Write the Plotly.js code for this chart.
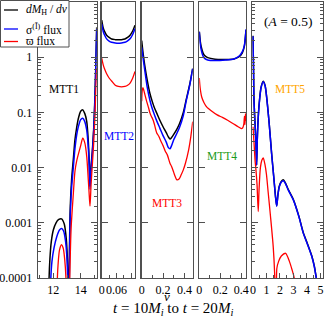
<!DOCTYPE html>
<html>
<head>
<meta charset="utf-8">
<script src="https://cdn.plot.ly/plotly-3.0.1.min.js"></script>
<style>html,body{margin:0;padding:0;background:#fff;}#chart{width:327px;height:320px;}</style>
</head>
<body>
<div id="chart"></div>
<script>
// ---------- DATA ----------
// Panel 1 (MTT1)
const mtt1V_black = [11.62, 11.69, 11.75, 11.85, 12.0, 12.2, 12.4, 12.6, 12.8, 12.95, 13.03, 13.09, 13.12, 13.18, 13.24, 13.34, 13.46, 13.58, 13.7, 13.82, 14.0, 14.15, 14.3, 14.44, 14.55, 14.62, 14.68, 14.75, 14.85, 14.95, 15.03, 15.1, 15.17];
const mtt1_black = [1e-5, 1.0e-4, 2.2e-4, 4.5e-4, 7.4e-4, 1.0e-3, 1.15e-3, 1.18e-3, 9.5e-4, 5.0e-4, 2.2e-4, 8e-5, 1e-6, 3.2e-4, 2.0e-3, 6.3e-3, 0.014, 0.032, 0.052, 0.076, 0.105, 0.111, 0.095, 0.069, 0.032, 0.014, 0.0046, 0.01, 0.02, 0.05, 0.16, 0.63, 3.5];
const mtt1V_blue = [11.75, 11.81, 11.9, 12.05, 12.25, 12.45, 12.6, 12.75, 12.9, 13.0, 13.05, 13.12, 13.18, 13.24, 13.34, 13.46, 13.58, 13.7, 13.82, 14.0, 14.15, 14.3, 14.44, 14.55, 14.62, 14.68, 14.75, 14.85, 14.95, 15.03, 15.1, 15.17];
const mtt1_blue = [1e-5, 9e-5, 2.0e-4, 3.5e-4, 5.6e-4, 7.4e-4, 7.9e-4, 7.1e-4, 4.5e-4, 2.2e-4, 9e-5, 1e-6, 2.0e-4, 1.4e-3, 4.5e-3, 0.01, 0.022, 0.038, 0.054, 0.074, 0.0785, 0.068, 0.048, 0.024, 0.011, 0.004, 0.0089, 0.018, 0.045, 0.14, 0.56, 3.2];
const mtt1V_red = [12.24, 12.29, 12.35, 12.45, 12.6, 12.72, 12.83, 12.93, 13.05, 13.2, 13.3, 13.46, 13.58, 13.7, 14.0, 14.15, 14.3, 14.44, 14.6, 14.68, 14.76, 14.85, 14.95, 15.05, 15.12, 15.17];
const mtt1_red = [1e-5, 9e-5, 1.8e-4, 3.2e-4, 4.0e-4, 3.5e-4, 2.2e-4, 9e-5, 1e-6, 1.0e-4, 7.9e-4, 3.3e-3, 8.5e-3, 0.013, 0.025, 0.034, 0.028, 0.016, 0.004, 0.002, 0.005, 0.011, 0.028, 0.1, 0.32, 0.63];

// Panel 2 (MTT2)
const mtt2V = [0, 0.0065, 0.013, 0.02, 0.03, 0.04, 0.055, 0.067, 0.08, 0.094, 0.105, 0.115, 0.125, 0.135];
const mtt2_black = [4.7, 3.35, 2.85, 2.5, 2.28, 2.14, 2.08, 2.06, 2.08, 2.14, 2.28, 2.5, 2.95, 3.8];
const mtt2_blue = [4.0, 2.9, 2.45, 2.15, 1.96, 1.86, 1.81, 1.79, 1.81, 1.86, 1.98, 2.15, 2.55, 3.3];
const mtt2_red = [0.96, 0.72, 0.59, 0.5, 0.42, 0.37, 0.31, 0.295, 0.29, 0.295, 0.31, 0.34, 0.41, 0.55];

// Panel 3 (MTT3)
const mtt3V = [0, 0.006, 0.015, 0.03, 0.05, 0.077, 0.1, 0.12, 0.14, 0.17, 0.2, 0.23, 0.25, 0.266, 0.28, 0.3, 0.33, 0.355, 0.39, 0.417, 0.45, 0.478];
const mtt3_black = [2.0, 1.55, 1.1, 0.68, 0.4, 0.22, 0.155, 0.12, 0.098, 0.072, 0.055, 0.043, 0.036, 0.033, 0.035, 0.04, 0.05, 0.063, 0.1, 0.17, 0.32, 0.62];
const mtt3_blue = [1.5, 1.25, 0.9, 0.56, 0.3, 0.166, 0.115, 0.09, 0.071, 0.052, 0.038, 0.029, 0.023, 0.022, 0.025, 0.032, 0.042, 0.054, 0.088, 0.16, 0.31, 0.62];
const mtt3V_red = [0, 0.005, 0.012, 0.02, 0.03, 0.05, 0.065, 0.077, 0.09, 0.1, 0.11, 0.12, 0.14, 0.16, 0.18, 0.2, 0.22, 0.24, 0.265, 0.28, 0.3, 0.315, 0.33, 0.35, 0.37, 0.39, 0.41, 0.44, 0.46, 0.478];
const mtt3_red = [0.16, 0.25, 0.28, 0.25, 0.21, 0.15, 0.12, 0.098, 0.085, 0.078, 0.07, 0.06, 0.043, 0.037, 0.03, 0.025, 0.02, 0.017, 0.012, 0.0105, 0.0082, 0.0068, 0.006, 0.0062, 0.0074, 0.0091, 0.012, 0.021, 0.036, 0.068];

// Panel 4 (MTT4)
const mtt4V = [0, 0.01, 0.02, 0.035, 0.05, 0.08, 0.15, 0.25, 0.33, 0.38, 0.41, 0.43, 0.445];
const mtt4_black = [2.9, 1.9, 1.5, 1.2, 1.07, 0.98, 0.92, 0.91, 0.93, 1.02, 1.2, 1.6, 3.1];
const mtt4_blue = [2.9, 1.7, 1.32, 1.05, 0.95, 0.89, 0.87, 0.89, 0.93, 1.05, 1.26, 1.66, 3.2];
const mtt4V_red = [0, 0.008, 0.023, 0.045, 0.07, 0.12, 0.17, 0.22, 0.27, 0.32, 0.37, 0.4, 0.415, 0.425, 0.43, 0.435, 0.44, 0.445];
const mtt4_red = [0.42, 0.28, 0.19, 0.15, 0.126, 0.105, 0.09, 0.081, 0.072, 0.063, 0.055, 0.051, 0.053, 0.063, 0.085, 0.06, 0.095, 0.07];

// Panel 5 (MTT5)
const mtt5V = [0, 0.04, 0.074, 0.15, 0.22, 0.27, 0.32, 0.4, 0.5, 0.6, 0.76, 0.9, 1.0, 1.2, 1.38, 1.55, 1.68, 1.76, 1.85, 1.95, 2.1, 2.24, 2.4, 2.6, 2.99, 3.4, 3.73, 4.05, 4.35, 4.55, 4.67, 4.8];
const mtt5_black = [2.45, 0.64, 0.173, 0.064, 0.0285, 0.0112, 0.0326, 0.091, 0.184, 0.286, 0.368, 0.306, 0.204, 0.064, 0.0184, 0.0064, 0.00285, 0.00204, 0.00326, 0.0046, 0.0056, 0.0060, 0.0053, 0.0041, 0.00265, 0.00132, 0.00066, 0.00041, 0.000255, 0.000163, 0.000109, 0.000071];
const mtt5_blue = [2.4, 0.63, 0.17, 0.063, 0.028, 0.011, 0.032, 0.089, 0.18, 0.28, 0.36, 0.30, 0.2, 0.063, 0.018, 0.0063, 0.0028, 0.002, 0.0032, 0.0045, 0.0055, 0.0058, 0.0052, 0.004, 0.0026, 0.0013, 0.00065, 0.0004, 0.00025, 0.00016, 0.000107, 0.00007];
const mtt5V_red = [0, 0.08, 0.15, 0.23, 0.3, 0.39, 0.45, 0.55, 0.65, 0.76, 0.9, 1.0, 1.13, 1.3, 1.5, 1.6, 1.66, 1.74, 1.77, 1.9, 2.1, 2.42, 2.7, 2.9, 3.06, 3.15];
const mtt5_red = [0.055, 0.028, 0.014, 0.0085, 0.005, 0.0016, 0.004, 0.01, 0.0135, 0.015, 0.011, 0.0075, 0.0035, 0.0013, 0.00037, 0.00013, 0.00003, 0.000005, 0.00015, 0.0002, 0.00025, 0.00028, 0.0002, 0.00014, 0.0001, 0.00004];

// Tick labels
const yTickVals = [1e-4, 1e-3, 1e-2, 1e-1, 1];
const yTickText = ['0.0001', '0.001', '0.01', '0.1', '1'];
const panelLabels = ['MTT1', 'MTT2', 'MTT3', 'MTT4', 'MTT5'];
const seriesNames = ['<i>dM</i><sub>H</sub> / <i>d\u03bd</i>', '\u03c3<sup>(\u012a)</sup> flux', '\u03d6 flux'];

// ---------- STYLE ----------
const FONT = 'Liberation Serif, Times New Roman, serif';
const C_BLACK = '#000000', C_BLUE = '#0000ff', C_RED = '#ff0000';
const FRAME = '#505050';
const L = 38, T = 2, PW = 285, PH = 276;
const px = x => (x - L) / PW;
const py = y => (T + PH - y) / PH;

const panels = [
  {vb: mtt1V_black, b: mtt1_black, vu: mtt1V_blue, u: mtt1_blue, vr: mtt1V_red, r: mtt1_red},
  {vb: mtt2V, b: mtt2_black, vu: mtt2V, u: mtt2_blue, vr: mtt2V, r: mtt2_red},
  {vb: mtt3V, b: mtt3_black, vu: mtt3V, u: mtt3_blue, vr: mtt3V_red, r: mtt3_red},
  {vb: mtt4V, b: mtt4_black, vu: mtt4V, u: mtt4_blue, vr: mtt4V_red, r: mtt4_red},
  {vb: mtt5V, b: mtt5_black, vu: mtt5V, u: mtt5_blue, vr: mtt5V_red, r: mtt5_red}
];

const traces = [];
panels.forEach((p, i) => {
  const xa = 'x' + (i ? i + 1 : '');
  const ya = 'y' + (i ? i + 1 : '');
  const base = {type: 'scatter', mode: 'lines', xaxis: xa, yaxis: ya, showlegend: false, hoverinfo: 'skip'};
  traces.push(Object.assign({}, base, {x: p.vb, y: p.b, line: {color: C_BLACK, width: 1.5, shape: 'spline', smoothing: 0.7}}));
  traces.push(Object.assign({}, base, {x: p.vu, y: p.u, line: {color: C_BLUE, width: 1.5, shape: 'spline', smoothing: 0.7}}));
  traces.push(Object.assign({}, base, {x: p.vr, y: p.r, line: {color: C_RED, width: 1.3, shape: 'spline', smoothing: 0.7}}));
});

// x-domains in pixels
const dom = [[38, 96.7], [101.7, 135], [141.7, 192.7], [199.3, 246], [252.3, 323]];
const xRanges = [[10.88, 15.17], [0, 0.135], [0, 0.478], [0, 0.445], [-0.05, 5.19]];
const xMajor = [
  {tickmode: 'linear', tick0: 0, dtick: 2},
  {tickmode: 'array', tickvals: [0, 0.06, 0.12], ticktext: ['0', '0.06', ' ']},
  {tickmode: 'linear', tick0: 0, dtick: 0.2},
  {tickmode: 'linear', tick0: 0, dtick: 0.2},
  {tickmode: 'linear', tick0: 0, dtick: 1}
];
const xMinor = [1, 0.03, 0.1, 0.1, 0.5];

const minorLog = [];
for (let e = -4; e < 1; e++) for (let d = 2; d <= 9; d++) minorLog.push(d * Math.pow(10, e));

const layout = {
  width: 327, height: 320,
  margin: {l: L, r: 327 - L - PW, t: T, b: 320 - T - PH},
  paper_bgcolor: '#fff', plot_bgcolor: '#fff',
  font: {family: FONT, size: 12, color: '#000'},
  showlegend: false,
  shapes: [], annotations: []
};

for (let i = 0; i < 5; i++) {
  const k = i ? i + 1 : '';
  layout['xaxis' + k] = Object.assign({
    domain: [px(dom[i][0]), px(dom[i][1])],
    range: xRanges[i], anchor: 'y' + k,
    showline: true, linecolor: FRAME, linewidth: 1.3, mirror: true,
    ticks: 'inside', ticklen: 5, tickwidth: 1, tickcolor: FRAME,
    minor: {ticks: 'inside', ticklen: 3, tickwidth: 1, tickcolor: FRAME, tick0: 0, dtick: xMinor[i]},
    showgrid: false, zeroline: false, tickangle: 0, ticklabelstandoff: 0,
    tickfont: {family: FONT, size: 12, color: '#000'}
  }, xMajor[i]);
  const ya = {
    type: 'log', range: [-4, 1], anchor: 'x' + k,
    showline: true, linecolor: FRAME, linewidth: 1.3, mirror: 'ticks',
    ticks: 'inside', ticklen: 6, tickwidth: 1, tickcolor: FRAME,
    tickmode: 'array', tickvals: yTickVals, ticktext: yTickText,
    showgrid: false, zeroline: false,
    showticklabels: i === 0, ticklabelstandoff: 2,
    tickfont: {family: FONT, size: 12, color: '#000'}
  };
  if (i === 0 || i === 4) {
    ya.minor = {ticks: 'inside', ticklen: 3, tickwidth: 1, tickcolor: FRAME, tickmode: 'array', tickvals: minorLog};
  }
  layout['yaxis' + k] = ya;
}

// Panel labels
const labelPos = [[64, 89, C_BLACK], [119, 136, C_BLUE], [167, 203, C_RED], [222, 156, '#1a9a1a'], [290, 89, '#ffa500']];
labelPos.forEach((p, i) => {
  layout.annotations.push({xref: 'paper', yref: 'paper', x: px(p[0]), y: py(p[1]), text: panelLabels[i],
    showarrow: false, xanchor: 'center', yanchor: 'middle', font: {family: FONT, size: 11.5, color: p[2]}});
});
layout.annotations.push({xref: 'paper', yref: 'paper', x: px(288), y: py(21.7), text: '(<i>A</i> = 0.5)',
  showarrow: false, xanchor: 'center', yanchor: 'middle', font: {family: FONT, size: 13.5, color: '#000'}});
layout.annotations.push({xref: 'paper', yref: 'paper', x: px(166.7), y: py(296), text: '<i>\u03bd</i>',
  showarrow: false, xanchor: 'center', yanchor: 'middle', font: {family: FONT, size: 13, color: '#000'}});
layout.annotations.push({xref: 'paper', yref: 'paper', x: px(172.7), y: py(309), text: '<i>t</i> = 10<i>M</i><sub><i>i</i></sub> to <i>t</i> = 20<i>M</i><sub><i>i</i></sub>',
  showarrow: false, xanchor: 'center', yanchor: 'middle', font: {family: FONT, size: 15, color: '#000'}});

// Legend (box, samples, text)
layout.shapes.push({type: 'rect', xref: 'paper', yref: 'paper', x0: px(0.5), x1: px(69), y0: py(47), y1: py(0.5),
  line: {color: FRAME, width: 1}, fillcolor: '#fff', layer: 'above'});
const legY = [10, 29, 41.5];
const legC = [C_BLACK, C_BLUE, C_RED];
legY.forEach((y, i) => {
  layout.shapes.push({type: 'line', xref: 'paper', yref: 'paper', x0: px(4), x1: px(18), y0: py(y), y1: py(y),
    line: {color: legC[i], width: 1.3}, layer: 'above'});
  layout.annotations.push({xref: 'paper', yref: 'paper', x: px(24), y: py(y), text: seriesNames[i],
    showarrow: false, xanchor: 'left', yanchor: 'middle', font: {family: FONT, size: 11.5, color: '#000'}});
});

Plotly.newPlot('chart', traces, layout, {staticPlot: true, displayModeBar: false});
</script>
</body>
</html>
